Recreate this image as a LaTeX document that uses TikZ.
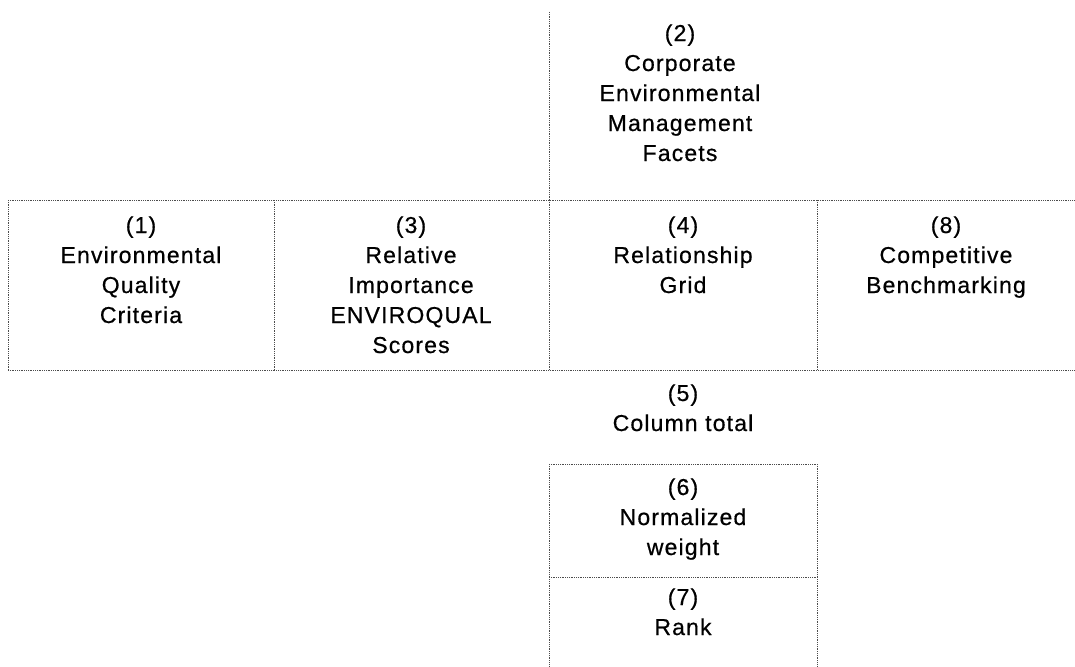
\documentclass[tikz,border=0pt]{standalone}
\usepackage{fontspec}
\setmainfont{Liberation Sans}[LetterSpace=5,FakeBold=0.6]
\begin{document}
\begin{tikzpicture}[x=1pt,y=-1pt,
  grid/.style={draw=black!70,densely dotted,line width=0.8pt},
  lbl/.style={align=center,anchor=base,inner sep=0pt,font=\fontsize{23}{30}\selectfont}]
\useasboundingbox (0,0) rectangle (1075,666);
% grid coordinates
\coordinate (vt) at (549,12);
\coordinate (tl) at (8,200);
\coordinate (tr) at (1075,200);
\coordinate (bl) at (8,370);
\coordinate (br) at (1075,370);
\coordinate (a1) at (274,200); \coordinate (a2) at (274,370);
\coordinate (b1) at (549,200); \coordinate (b2) at (549,370);
\coordinate (c1) at (817,200); \coordinate (c2) at (817,370);
\coordinate (lt1) at (549,464); \coordinate (lt2) at (817,464);
\coordinate (lm1) at (549,577); \coordinate (lm2) at (817,577);
\coordinate (lb1) at (549,666); \coordinate (lb2) at (817,666);
% lines
\draw[grid] (vt) -- (b1);
\draw[grid] (tl) -- (tr);
\draw[grid] (bl) -- (br);
\draw[grid] (tl) -- (bl);
\draw[grid] (a1) -- (a2);
\draw[grid] (b1) -- (b2);
\draw[grid] (c1) -- (c2);
\draw[grid] (lt1) -- (lt2);
\draw[grid] (lm1) -- (lm2);
\draw[grid] (lt1) -- (lb1);
\draw[grid] (lt2) -- (lb2);
% labels (anchor = baseline of last line)
\node[lbl] (n2) at (680,161) {(2)\\Corporate\\Environmental\\Management\\Facets};
\node[lbl] (n1) at (141,323) {(1)\\Environmental\\Quality\\Criteria};
\node[lbl] (n3) at (411,353) {(3)\\Relative\\Importance\\ENVIROQUAL\\Scores};
\node[lbl] (n4) at (683,293) {(4)\\Relationship\\Grid};
\node[lbl] (n8) at (946,293) {(8)\\Competitive\\Benchmarking};
\node[lbl] (n5) at (683,431) {(5)\\Column total};
\node[lbl] (n6) at (683,555) {(6)\\Normalized\\weight};
\node[lbl] (n7) at (683,635) {(7)\\Rank};
\end{tikzpicture}
\end{document}
